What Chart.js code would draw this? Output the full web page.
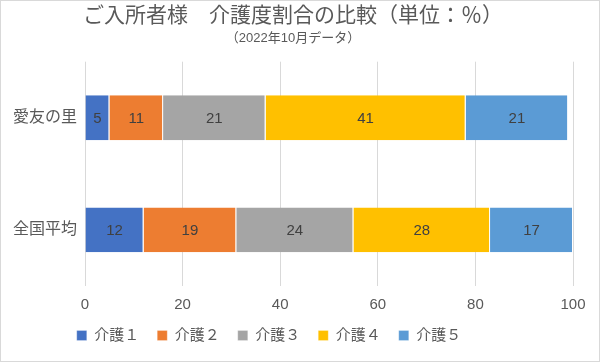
<!DOCTYPE html>
<html>
<head>
<meta charset="utf-8">
<script src="https://cdn.jsdelivr.net/npm/chart.js@4.4.1/dist/chart.umd.min.js"></script>
<style>
  html, body { margin: 0; padding: 0; background: #fff; }
  .wrap { position: relative; width: 598px; height: 360px; border: 1px solid #d9d9d9; }
</style>
</head>
<body>
<div class="wrap"><canvas id="chart"></canvas></div>
<script>
// data
const categories = ["愛友の里", "全国平均"];
const seriesNames = ["介護１", "介護２", "介護３", "介護４", "介護５"];
const kaigo1 = [5, 12];
const kaigo2 = [11, 19];
const kaigo3 = [21, 24];
const kaigo4 = [41, 28];
const kaigo5 = [21, 17];
const colors = ["#4472C4", "#ED7D31", "#A5A5A5", "#FFC000", "#5B9BD5"];

const FONT = "'Liberation Sans', 'Noto Sans CJK JP', sans-serif";
const TEXT = "#595959";

// draw the value in the middle of each bar segment
const barLabels = {
  id: "barLabels",
  afterDatasetsDraw(chart) {
    const ctx = chart.ctx;
    ctx.save();
    ctx.font = "15px " + FONT;
    ctx.fillStyle = "#404040";
    ctx.textAlign = "center";
    ctx.textBaseline = "middle";
    chart.data.datasets.forEach((ds, i) => {
      chart.getDatasetMeta(i).data.forEach((bar, j) => {
        const p = bar.getProps(["x", "y", "base"], true);
        ctx.fillText(ds.data[j], (p.x + p.base) / 2, p.y + 1);
      });
    });
    ctx.restore();
  },
};

// nudge the legend closer to the axis and a bit left, like the Excel original
const legendNudge = {
  id: "legendNudge",
  afterLayout(chart) {
    const lg = chart.legend;
    lg.top -= 14;
    lg.bottom -= 14;
    lg.left -= 24;
    lg.right -= 24;
  },
};

const seriesData = [kaigo1, kaigo2, kaigo3, kaigo4, kaigo5];

new Chart(document.getElementById("chart"), {
  type: "bar",
  data: {
    labels: categories,
    datasets: seriesNames.map((name, i) => ({
      label: name,
      data: seriesData[i],
      backgroundColor: colors[i],
      borderColor: "#ffffff",
      borderWidth: { right: 1 },
      borderSkipped: false,
      barPercentage: 0.8,
      categoryPercentage: 0.5,
    })),
  },
  options: {
    indexAxis: "y",
    responsive: true,
    maintainAspectRatio: false,
    animation: false,
    layout: { padding: { left: 12, right: 26, top: 3, bottom: 3 } },
    scales: {
      x: {
        stacked: true,
        min: 0,
        max: 100,
        ticks: { stepSize: 20, color: TEXT, font: { family: FONT, size: 15 }, padding: 10 },
        grid: { color: "#d9d9d9", drawTicks: false },
        border: { display: false },
      },
      y: {
        stacked: true,
        ticks: { color: TEXT, font: { family: FONT, size: 16 }, padding: 0 },
        grid: { display: false },
        border: { display: false },
      },
    },
    plugins: {
      title: {
        display: true,
        text: "ご入所者様　介護度割合の比較（単位：％）",
        color: TEXT,
        font: { family: FONT, size: 21, weight: "normal", lineHeight: 1.1 },
        padding: { top: 1, bottom: 3 },
      },
      subtitle: {
        display: true,
        text: "（2022年10月データ）",
        color: TEXT,
        font: { family: FONT, size: 13, weight: "normal" },
        padding: { bottom: 15 },
      },
      legend: {
        position: "bottom",
        maxHeight: 34,
        labels: {
          color: TEXT,
          font: { family: FONT, size: 15 },
          boxWidth: 10,
          boxHeight: 10,
          padding: 18,
        },
      },
      tooltip: { enabled: false },
    },
  },
  plugins: [barLabels, legendNudge],
});
</script>
</body>
</html>
